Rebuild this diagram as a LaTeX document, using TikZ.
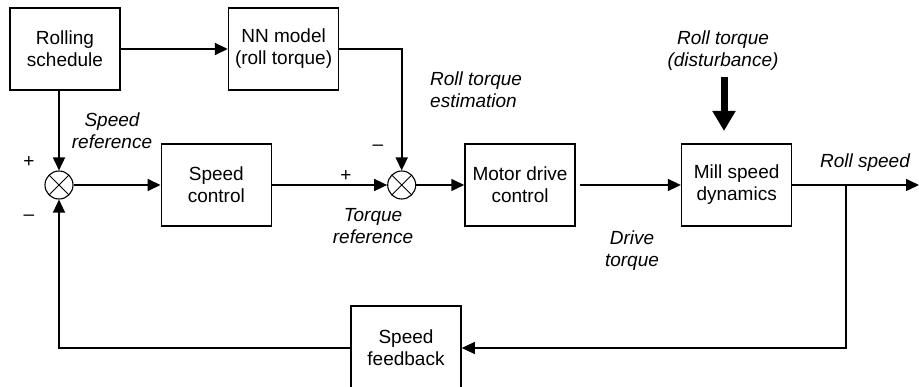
\documentclass[tikz,border=0pt]{standalone}
\usepackage{fontspec}
\setmainfont{Liberation Sans}
\usetikzlibrary{arrows.meta, positioning}
\tikzset{
  block/.style  = {rectangle, draw, line width=1.6pt, minimum width=110pt,
                   minimum height=82pt, inner sep=0pt, align=center},
  summer/.style = {circle, draw, line width=1.1pt, minimum size=28pt, inner sep=0pt,
                   path picture={\draw[line width=0.9pt]
                     (path picture bounding box.south west) -- (path picture bounding box.north east)
                     (path picture bounding box.north west) -- (path picture bounding box.south east);}},
  signal/.style   = {-{Triangle[length=13pt,width=12pt]}, line width=1.6pt},
  backline/.style = {-{Triangle[length=13pt,width=12pt]}, line width=1.2pt},
  load/.style     = {-{Triangle[length=20pt,width=22pt]}, line width=7pt},
  tag/.style      = {font=\fontsize{19}{22}\selectfont\itshape, align=center, inner sep=0pt},
  sign/.style     = {inner sep=0pt}
}

\begin{document}
\begin{tikzpicture}[x=1pt, y=-1pt, font=\fontsize{19}{22}\selectfont]
  \useasboundingbox (0,0) rectangle (919,387);
  \clip (0,0) rectangle (919,387);

  \node (sched) [block]                        at (65,49)  {Rolling\\schedule};
  \node (nn)    [block, right=107pt of sched]              {NN model\\(roll torque)};
  \node (sum1)  [summer]                       at (59,185) {};
  \node (spd)   [block, right=87pt of sum1]                {Speed\\control};
  \node (sum2)  [summer, right=115pt of spd]               {};
  \node (motor) [block, right=48pt of sum2]                {Motor drive\\control};
  \node (mill)  [block, right=105pt of motor]              {Mill speed\\dynamics};
  \node (fb)    [block, minimum height=84pt]   at (406,348) {Speed\\feedback};

  \coordinate (out)  at (919,185);
  \coordinate (tap)  at (846,185);
  \coordinate (dist) at (724,77);
  \coordinate (hit)  at (724,131);

  % forward path
  \draw[signal] (sched) -- (nn);
  \draw[signal] (sched.south -| sum1) -- (sum1);
  \draw[signal] (nn.east) -| (sum2);
  \draw[signal] (sum1) -- (spd);
  \draw[signal] (spd) -- (sum2);
  \draw[signal] (sum2) -- (motor);
  \draw[signal] ([xshift=4pt]motor.east) -- (mill);
  \draw[signal] (mill) -- (out);
  \draw[load] (dist) -- (hit);

  % feedback loop
  \draw[backline] (tap) |- (fb);
  \draw[backline] (fb) -| (sum1);

  % signs and labels
  \node (p1) [sign] at (29,162) {+};
  \node (m1) [sign] at (29,218) {–};
  \node (p2) [sign] at (346,176) {+};
  \node (m2) [sign] at (378,148) {–};
  \node (lspd)  [tag] at (112,131) {Speed\\reference};
  \node (lest)  [tag, anchor=west, align=left] at (430,90) {Roll torque\\estimation};
  \node (ldist) [tag] at (723,51)  {Roll torque\\(disturbance)};
  \node (ltq)   [tag] at (373,226) {Torque\\reference};
  \node (ldrv)  [tag] at (632,251) {Drive\\torque};
  \node (lout)  [tag] at (865,163) {Roll speed};
\end{tikzpicture}
\end{document}
